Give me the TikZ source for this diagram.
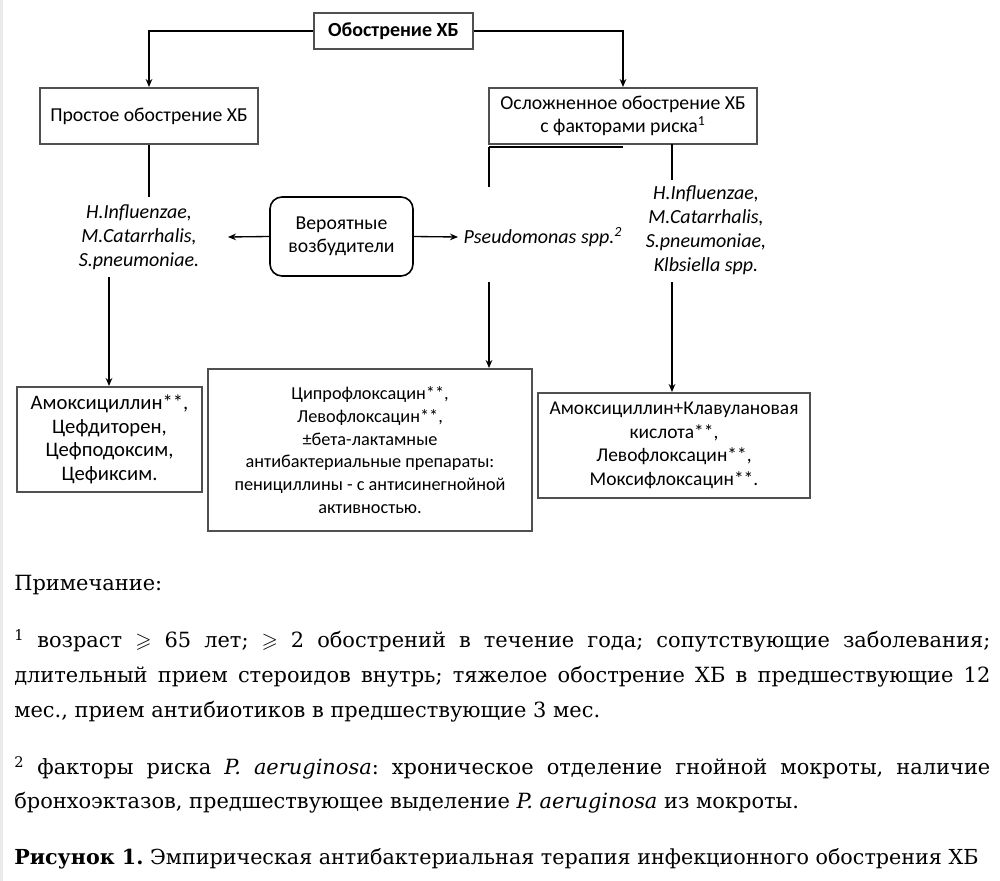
\documentclass[tikz,border=0pt]{standalone}
\usepackage{fontspec}
\usepackage{amssymb}
\usetikzlibrary{arrows.meta}
\newfontfamily\diagfont{Carlito}
\newfontfamily\notefont{DejaVu Serif}
\definecolor{boxgray}{HTML}{505050}
\frenchspacing
\tikzset{
  box/.style={draw=boxgray, line width=1.5pt, inner sep=0pt, font=\diagfont\fontsize{14.8}{17.6}\selectfont, align=center},
  rbox/.style={box, draw=black, line width=1.2pt, rounded corners=9pt},
  lbl/.style={font=\diagfont\itshape\fontsize{15}{18}\selectfont, align=center, inner sep=0pt},
  conn/.style={line width=1pt, draw=black},
  arr/.style={conn, -{Stealth[length=6pt,width=5pt]}},
  note/.style={font=\notefont\fontsize{15.7}{26}\selectfont, inner sep=0pt}
}
\begin{document}
\begin{tikzpicture}[x=0.75pt,y=-0.75pt]
\useasboundingbox (0,0) rectangle (1000,881);
\fill[white] (0,0) rectangle (1000,881);
\fill[black!8] (0,0) rectangle (3,881);
% boxes
\node[box, minimum width=159*0.75pt, minimum height=36*0.75pt, font=\diagfont\bfseries\fontsize{15}{17.6}\selectfont] (top) at (393.5,31) {Обострение ХБ};
\node[box, minimum width=218*0.75pt, minimum height=56*0.75pt] (simple) at (149,116) {Простое обострение ХБ};
\node[box, minimum width=268*0.75pt, minimum height=56*0.75pt] (compl) at (623,116) {Осложненное обострение ХБ\\с факторами риска\textsuperscript{1}};
\node[rbox, minimum width=143*0.75pt, minimum height=79*0.75pt] (prob) at (341.5,236.5) {Вероятные\\возбудители};
% pathogen labels
\node[lbl] (lt) at (139,237) {H.Influenzae,\\M.Catarrhalis,\\S.pneumoniae.};
\node[lbl, anchor=west, inner xsep=4pt] (ps) at (458,237) {Pseudomonas spp.\textsuperscript{2}};
\node[lbl] (rt) at (706,230) {H.Influenzae,\\M.Catarrhalis,\\S.pneumoniae,\\Klbsiella spp.};
% therapy boxes
\node[box, minimum width=185*0.75pt, minimum height=105*0.75pt, font=\diagfont\fontsize{15.5}{17.6}\selectfont] (amox) at (109.5,439.5) {Амоксициллин**,\\Цефдиторен,\\Цефподоксим,\\Цефиксим.};
\node[box, minimum width=324*0.75pt, minimum height=162*0.75pt, font=\diagfont\fontsize{13.7}{17.1}\selectfont] (cipro) at (370,450) {Ципрофлоксацин**,\\Левофлоксацин**,\\±бета-лактамные\\антибактериальные препараты:\\пенициллины - с антисинегнойной\\активностью.};
\node[box, minimum width=272*0.75pt, minimum height=105*0.75pt, font=\diagfont\fontsize{14.6}{17.6}\selectfont] (amkl) at (674,445.5) {Амоксициллин+Клавулановая\\кислота**,\\Левофлоксацин**,\\Моксифлоксацин**.};
% coordinates
\coordinate (la) at (228,237);
\coordinate (s1) at (149,197);
\coordinate (l1) at (109,277);
\coordinate (c1) at (489,147);
\coordinate (c2) at (623,147);
\coordinate (c3) at (489,187);
\coordinate (m1) at (489,282);
\coordinate (r0) at (672,144);
\coordinate (r1) at (672,180);
\coordinate (r2) at (672,282);
% connectors
\draw[arr] (top.west) -| (simple.north);
\draw[arr] (top.east) -| (compl.north);
\draw[conn] (simple.south) -- (s1);
\draw[arr] (prob.west) -- (la);
\draw[arr] (prob.east) -- (ps.west);
\draw[arr] (l1) -- (amox.north -| l1);
\draw[conn, line width=1.8pt] (c2) -- (c1);
\draw[conn] (c1) -- (c3);
\draw[arr] (m1) -- (cipro.north -| m1);
\draw[conn] (r0) -- (r1);
\draw[arr] (r2) -- (amkl.north -| r2);
% notes
\node[note, anchor=base west] (nh) at (14,590) {Примечание:};
\node[note, anchor=base west] (n1a) at (14,647) {\hbox to 732pt{\textsuperscript{1} возраст $\geqslant$ 65 лет; $\geqslant$ 2 обострений в течение года; сопутствующие заболевания;}};
\node[note, anchor=base west] (n1b) at (14,682) {\hbox to 732pt{длительный прием стероидов внутрь; тяжелое обострение ХБ в предшествующие 12}};
\node[note, anchor=base west] (n1c) at (14,717) {мес., прием антибиотиков в предшествующие 3 мес.};
\node[note, anchor=base west] (n2a) at (14,774) {\hbox to 732pt{\textsuperscript{2} факторы риска \textit{P. aeruginosa}: хроническое отделение гнойной мокроты, наличие}};
\node[note, anchor=base west] (n2b) at (14,808) {бронхоэктазов, предшествующее выделение \textit{P. aeruginosa} из мокроты.};
\node[note, anchor=base west, font=\notefont\fontsize{15.5}{26}\selectfont] (cap) at (14,864) {\textbf{Рисунок 1.} Эмпирическая антибактериальная терапия инфекционного обострения ХБ};
\end{tikzpicture}
\end{document}
